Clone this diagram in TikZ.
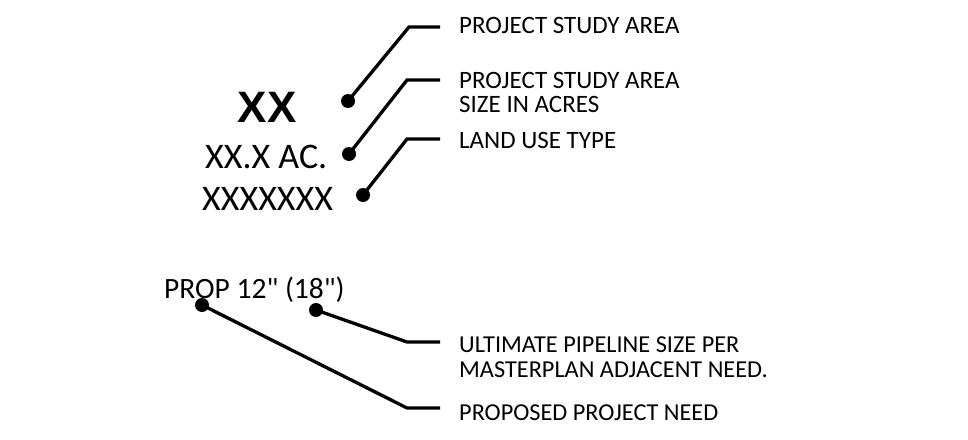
\documentclass[tikz,border=0pt]{standalone}
\usepackage{fontspec}
\setmainfont{Carlito}
\newfontfamily\plainf{Carlito}
\newfontfamily\arialf{Liberation Sans}
\begin{document}
\begin{tikzpicture}[x=1pt,y=-1pt,
  lead/.style={line width=3.3pt,line join=miter},
  dotmark/.style={circle,fill=black,inner sep=0pt,minimum size=14pt},
  lab/.style={anchor=base west,inner sep=0pt,font=\fontsize{25}{27}\selectfont},
  labl/.style={anchor=base west,inner sep=0pt,font=\fontsize{24.3}{27}\selectfont},
  big/.style={anchor=base west,inner sep=0pt,font=\fontsize{36}{40}\selectfont}]
\useasboundingbox (0,0) rectangle (968,439);
% upper block
\node[anchor=base,inner sep=0pt,font=\arialf\bfseries\fontsize{44}{48}\selectfont] (xx) at (267,122) {XX};
\node[big] (acres) at (205,168) {XX.X AC.};
\node[big] (type) at (202,210) {XXXXXXX};
\node[dotmark] (d1) at (348,101) {};
\node[dotmark] (d2) at (349,154) {};
\node[dotmark] (d3) at (363,195) {};
\node[lab] (l1) at (459,33) {PROJECT STUDY AREA};
\node[lab] (l2a) at (459,88) {PROJECT STUDY AREA};
\node[lab] (l2b) at (459,112) {SIZE IN ACRES};
\node[lab] (l3) at (459,148) {LAND USE TYPE};
\coordinate (b1) at (409,27);
\coordinate (e1) at (440,27);
\coordinate (b2) at (407,80);
\coordinate (e2) at (440,80);
\coordinate (b3) at (407,139);
\coordinate (e3) at (440,139);
\draw[lead] (d1.center) -- (b1) -- (e1);
\draw[lead] (d2.center) -- (b2) -- (e2);
\draw[lead] (d3.center) -- (b3) -- (e3);
% lower block
\node[anchor=base west,inner sep=0pt,font=\plainf\fontsize{29.5}{32}\selectfont] (prop) at (164,298) {PROP 12" (18")};
\node[dotmark] (d4) at (202,305) {};
\node[dotmark] (d5) at (316,310) {};
\node[labl] (l4a) at (459,352) {ULTIMATE PIPELINE SIZE PER};
\node[labl] (l4b) at (459,377) {MASTERPLAN ADJACENT NEED.};
\node[labl] (l5) at (459,420) {PROPOSED PROJECT NEED};
\coordinate (b4) at (407,342);
\coordinate (e4) at (440,342);
\coordinate (b5) at (407,408);
\coordinate (e5) at (440,408);
\draw[lead] (d5.center) -- (b4) -- (e4);
\draw[lead] (d4.center) -- (b5) -- (e5);
\end{tikzpicture}
\end{document}
